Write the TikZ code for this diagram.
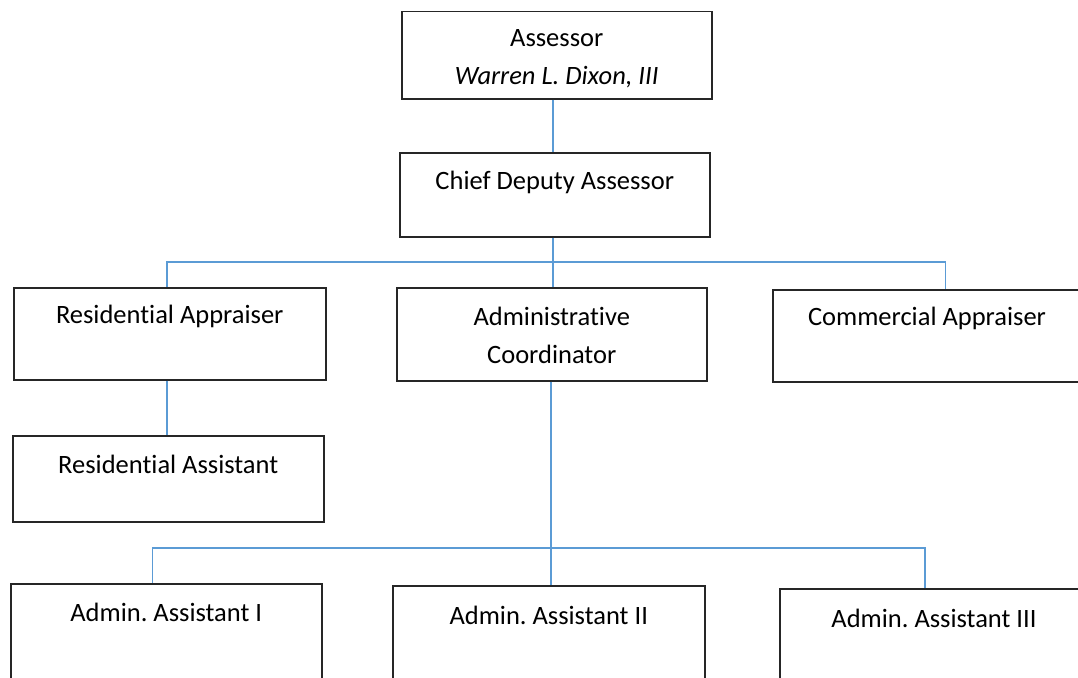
\documentclass[tikz,border=0pt]{standalone}
\usepackage{fontspec}
\setmainfont{Carlito}[Ligatures=NoCommon]
\frenchspacing
\definecolor{connblue}{RGB}{91,155,213}
\begin{document}
\begin{tikzpicture}[x=1pt,y=-1pt,
  box/.style={draw=black!85, line width=1.5pt, rectangle, anchor=north west, inner sep=0pt},
  lbl/.style={font=\fontsize{26.5}{38}\selectfont, align=center, inner sep=0pt},
  conn/.style={draw=connblue, line width=1.5pt}]
\useasboundingbox (0,0) rectangle (1078,677);
\clip (0,0) rectangle (1078,677);
% boxes
\node[box, minimum width=310pt, minimum height=87pt] (ass) at (401,11) {};
\node[box, minimum width=310pt, minimum height=84pt] (chief) at (399,152) {};
\node[box, minimum width=312pt, minimum height=92pt] (res) at (13,287) {};
\node[box, minimum width=310pt, minimum height=93pt] (coord) at (396,287) {};
\node[box, minimum width=345pt, minimum height=92pt] (com) at (772,289) {};
\node[box, minimum width=311pt, minimum height=86pt] (resa) at (12,435) {};
\node[box, minimum width=311pt, minimum height=110pt] (a1) at (10,583) {};
\node[box, minimum width=312pt, minimum height=110pt] (a2) at (392,585) {};
\node[box, minimum width=300pt, minimum height=110pt] (a3) at (779,588) {};
% labels
\node[lbl] (ass-t) at ([yshift=-48pt]ass.north) {Assessor\\\itshape Warren L. Dixon, III};
\node[lbl] (chief-t) at ([yshift=-30pt]chief.north) {Chief Deputy Assessor};
\node[lbl] (res-t) at ([yshift=-29pt]res.north) {Residential Appraiser};
\node[lbl] (coord-t) at ([yshift=-48pt]coord.north) {Administrative\\Coordinator};
\node[lbl] (com-t) at (927,318) {Commercial Appraiser};
\node[lbl] (resa-t) at ([yshift=-29pt]resa.north) {Residential Assistant};
\node[lbl] (a1-t) at ([yshift=-29pt]a1.north) {Admin. Assistant I};
\node[lbl] (a2-t) at ([yshift=-30pt]a2.north) {Admin. Assistant II};
\node[lbl] (a3-t) at (934,618) {Admin. Assistant III};
% connectors
\coordinate (j1) at (553,262);
\coordinate (j2) at (551,548);
\draw[conn] (ass.south -| j1) -- (chief.north -| j1);
\draw[conn] (chief.south -| j1) -- (coord.north -| j1);
\draw[conn] ([xshift=-3pt]res.north) |- (j1) -| (com.north);
\draw[conn] ([xshift=-3pt]res.south) -- ([xshift=-1.5pt]resa.north);
\draw[conn] (coord.south -| j2) -- (a2.north -| j2);
\draw[conn] ([xshift=-14pt]a1.north) |- (j2) -| ([xshift=-5pt]a3.north);
\end{tikzpicture}
\end{document}
